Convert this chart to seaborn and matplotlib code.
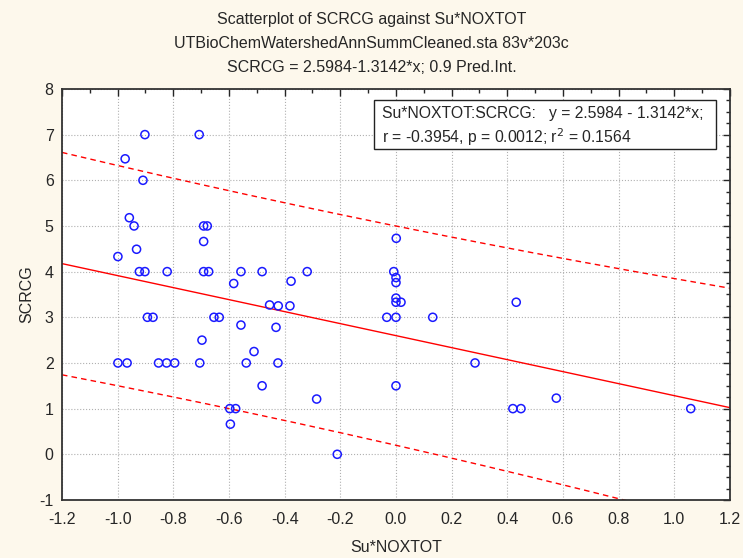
import numpy as np
import pandas as pd
import seaborn as sns
import matplotlib.pyplot as plt
from matplotlib.patches import Rectangle
from matplotlib.ticker import MultipleLocator

# values
su_noxtot = [-0.902, -0.707, -0.973, -0.909, -0.958, -0.941, -0.691, -0.678, -0.691, -0.932,
             -0.999, -0.922, -0.902, -0.822, -0.691, -0.673, -0.557, -0.481, -0.319, -0.583,
             -0.377, 0.001, -0.008, 0.0, 0.0, 0.0, 0.0, 0.018, 0.432, -0.033,
             0.0, 0.132, 0.284, 0.0, -0.285, 0.420, 0.449, -0.211, -0.454, -0.423,
             -0.381, -0.893, -0.873, -0.654, -0.635, -0.557, -0.431, -0.697, -0.510, -0.999,
             -0.966, -0.853, -0.824, -0.795, -0.705, -0.538, -0.424, -0.481, -0.597, -0.576,
             -0.595, 0.576, 1.059]
scrcg = [7.0, 7.0, 6.47, 6.0, 5.18, 5.0, 5.0, 5.0, 4.66, 4.49,
         4.33, 4.0, 4.0, 4.0, 4.0, 4.0, 4.0, 4.0, 4.0, 3.74,
         3.79, 4.73, 4.0, 3.87, 3.76, 3.42, 3.33, 3.33, 3.33, 3.0,
         3.0, 3.0, 2.0, 1.5, 1.21, 1.0, 1.0, 0.0, 3.27, 3.25,
         3.25, 3.0, 3.0, 3.0, 3.0, 2.83, 2.78, 2.5, 2.25, 2.0,
         2.0, 2.0, 2.0, 2.0, 2.0, 2.0, 2.0, 1.5, 1.0, 1.0,
         0.66, 1.23, 1.0]
intercept, slope = 2.5984, -1.3142
t_crit = 1.670  # t(0.95, n-2) for 0.9 prediction interval

df = pd.DataFrame({"Su*NOXTOT": su_noxtot, "SCRCG": scrcg})

# regression line and prediction interval
x = df["Su*NOXTOT"].values
n = len(x)
resid = df["SCRCG"].values - (intercept + slope * x)
s = np.sqrt((resid ** 2).sum() / (n - 2))
xs = np.linspace(-1.2, 1.2, 200)
hw = t_crit * s * np.sqrt(1 + 1 / n + (xs - x.mean()) ** 2 / ((x - x.mean()) ** 2).sum())
fit = pd.DataFrame({"x": xs, "y": intercept + slope * xs, "lo": intercept + slope * xs - hw,
                    "hi": intercept + slope * xs + hw})

sns.set_style("white")
plt.rcParams['font.family'] = ['Liberation Sans Narrow', 'Liberation Sans', 'DejaVu Sans']
plt.rcParams['axes.unicode_minus'] = False
bg = "#fdf8ec"

fig = plt.figure(figsize=(7.43, 5.58), dpi=100, facecolor=bg)
ax = fig.add_axes([0.0834, 0.104, 0.8991, 0.7366])
ax.set_facecolor("white")

sns.lineplot(data=fit, x="x", y="y", ax=ax, color="red", linewidth=1.0)
sns.lineplot(data=fit, x="x", y="lo", ax=ax, color="red", linewidth=1.0, linestyle=(0, (4, 3)))
sns.lineplot(data=fit, x="x", y="hi", ax=ax, color="red", linewidth=1.0, linestyle=(0, (4, 3)))
sns.scatterplot(data=df, x="Su*NOXTOT", y="SCRCG", ax=ax, marker="o", s=34,
                facecolors="none", edgecolor="#1a1aff", linewidth=1.1, zorder=5)

ax.set_xlim(-1.2, 1.2)
ax.set_ylim(-1, 8)
ax.xaxis.set_major_locator(MultipleLocator(0.2))
ax.xaxis.set_minor_locator(MultipleLocator(0.1))
ax.yaxis.set_major_locator(MultipleLocator(1))
ax.yaxis.set_minor_locator(MultipleLocator(0.25))
ax.set_xticklabels([f"{v:.1f}" for v in ax.get_xticks()])
ax.tick_params(which="both", direction="in", top=True, right=True, labelsize=11.5)
ax.tick_params(axis="x", pad=9)
ax.tick_params(axis="y", pad=6)
ax.tick_params(which="major", length=5, width=1)
ax.tick_params(which="minor", length=3, width=1)
ax.grid(True, which="major", linestyle=":", color="#b0b0b0", linewidth=0.8)
for sp in ax.spines.values():
    sp.set_color("#333333")
    sp.set_linewidth(1.3)

ax.set_xlabel("Su*NOXTOT", fontsize=11.5, labelpad=9)
ax.set_ylabel("SCRCG", fontsize=11.5, labelpad=4)

title = ("Scatterplot of SCRCG against Su*NOXTOT\n"
         "UTBioChemWatershedAnnSummCleaned.sta 83v*203c\n"
         "SCRCG = 2.5984-1.3142*x; 0.9 Pred.Int.")
fig.text(0.5, 0.978, title, ha="center", va="top", fontsize=11.5, linespacing=1.75)

# legend box with the fit statistics
ax.add_patch(Rectangle((0.467, 0.854), 0.512, 0.119, transform=ax.transAxes,
                       facecolor="white", edgecolor="#222222", linewidth=1, zorder=10))
ax.text(0.479, 0.941, "Su*NOXTOT:SCRCG:   y = 2.5984 - 1.3142*x;", transform=ax.transAxes,
        ha="left", va="center", fontsize=11.3, family="Liberation Sans", zorder=11)
ax.text(0.479, 0.883, "r = -0.3954, p = 0.0012; r$^2$ = 0.1564", transform=ax.transAxes,
        ha="left", va="center", fontsize=11.3, family="Liberation Sans", zorder=11)

fig.savefig("out.png", dpi=100, facecolor=bg)
